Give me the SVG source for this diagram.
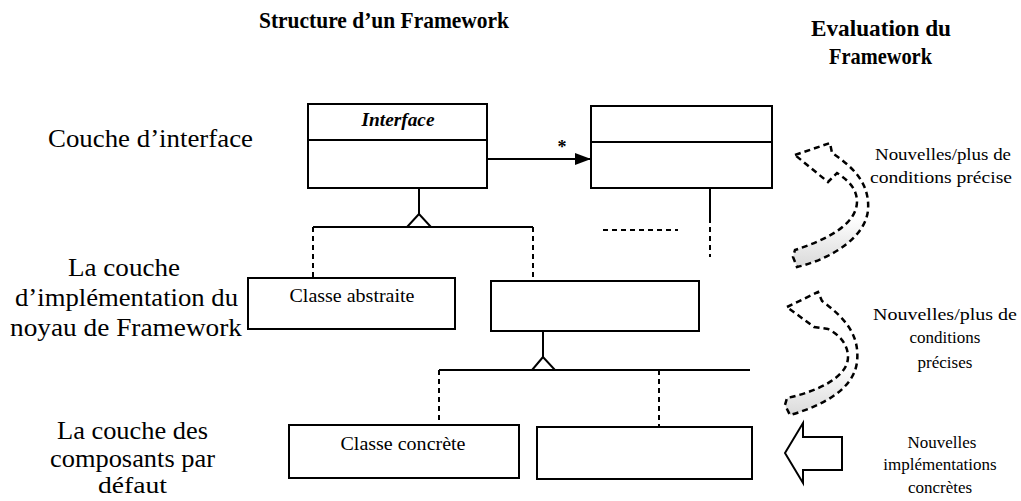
<svg xmlns="http://www.w3.org/2000/svg" width="1021" height="501" viewBox="0 0 1021 501">
<style>
.box{fill:#fff;stroke:#000;stroke-width:2}
.ln{fill:none;stroke:#000;stroke-width:2}
.dash{fill:none;stroke:#000;stroke-width:2;stroke-dasharray:5,4}
.tri{fill:#fff;stroke:#000;stroke-width:2}
.lbl{font-family:"Liberation Serif","Times New Roman",serif;fill:#000}
.ttl{font-family:"Liberation Serif","Times New Roman",serif;font-weight:bold;font-size:24px;fill:#000}
.big{font-size:26px}
.cls{font-size:19px}
.side{font-size:17px}
.curve{stroke:#000;stroke-width:2.5;stroke-dasharray:6,4;fill:url(#shade)}
</style>
<defs>
<marker id="arr" viewBox="0 0 16 12" refX="16" refY="6" markerWidth="16" markerHeight="12" markerUnits="userSpaceOnUse" orient="auto">
<path d="M0,0 L16,6 L0,12 Z" fill="#000"/>
</marker>
<linearGradient id="shade" x1="0" y1="0" x2="0" y2="1">
<stop offset="0" stop-color="#fff"/>
<stop offset="0.6" stop-color="#fff"/>
<stop offset="1" stop-color="#dadada"/>
</linearGradient>
</defs>
<rect width="1021" height="501" fill="#fff"/>

<g id="titles">
<text class="ttl" x="259" y="28" textLength="250" lengthAdjust="spacingAndGlyphs">Structure d’un Framework</text>
<text class="ttl" x="811" y="36" textLength="140" lengthAdjust="spacingAndGlyphs">Evaluation du</text>
<text class="ttl" x="829" y="64" textLength="103" lengthAdjust="spacingAndGlyphs">Framework</text>
</g>

<g id="layer-labels">
<text class="lbl big" x="48" y="147" textLength="205" lengthAdjust="spacingAndGlyphs">Couche d’interface</text>
<text class="lbl big" x="68" y="276" textLength="112" lengthAdjust="spacingAndGlyphs">La couche</text>
<text class="lbl big" x="15" y="306" textLength="223" lengthAdjust="spacingAndGlyphs">d’implémentation du</text>
<text class="lbl big" x="10" y="336" textLength="232" lengthAdjust="spacingAndGlyphs">noyau de Framework</text>
<text class="lbl big" x="57" y="439" textLength="151" lengthAdjust="spacingAndGlyphs">La couche des</text>
<text class="lbl big" x="50" y="467" textLength="165" lengthAdjust="spacingAndGlyphs">composants par</text>
<text class="lbl" x="98" y="493" font-size="24" textLength="69" lengthAdjust="spacingAndGlyphs">défaut</text>
</g>

<g id="connectors">
<line class="ln" x1="487" y1="159" x2="591" y2="159" marker-end="url(#arr)"/>
<line class="ln" x1="419" y1="188" x2="419" y2="214"/>
<polygon class="tri" points="419,214 407,227 431,227"/>
<line class="ln" x1="313" y1="227" x2="533" y2="227"/>
<line class="dash" x1="313" y1="227" x2="313" y2="278"/>
<line class="dash" x1="533" y1="227" x2="533" y2="281"/>
<line class="ln" x1="710" y1="188" x2="710" y2="218"/>
<line class="dash" x1="710" y1="218" x2="710" y2="257"/>
<line class="dash" x1="603" y1="230" x2="678" y2="230"/>
<line class="ln" x1="543" y1="331" x2="543" y2="357"/>
<polygon class="tri" points="543,357 532,370 555,370"/>
<line class="ln" x1="439" y1="370" x2="750" y2="370"/>
<line class="dash" x1="439" y1="370" x2="439" y2="425"/>
<line class="dash" x1="659" y1="370" x2="659" y2="427"/>
</g>

<g id="interface">
<rect class="box" x="308" y="104" width="179" height="84"/>
<line class="ln" x1="308" y1="140" x2="487" y2="140"/>
<text class="lbl" x="398" y="126" text-anchor="middle" font-size="18" font-weight="bold" font-style="italic" textLength="73" lengthAdjust="spacingAndGlyphs">Interface</text>
</g>
<text class="lbl" x="562" y="153" text-anchor="middle" font-size="18" font-weight="bold">*</text>

<g id="class-top-right">
<rect class="box" x="591" y="106" width="181" height="82"/>
<line class="ln" x1="591" y1="142" x2="772" y2="142"/>
</g>

<g id="classe-abstraite">
<rect class="box" x="248" y="278" width="207" height="51"/>
<text class="lbl cls" x="352" y="302" text-anchor="middle" textLength="125" lengthAdjust="spacingAndGlyphs">Classe abstraite</text>
</g>

<g id="class-mid-right">
<rect class="box" x="491" y="281" width="208" height="50"/>
</g>

<g id="classe-concrete">
<rect class="box" x="289" y="425" width="230" height="53"/>
<text class="lbl cls" x="403" y="450" text-anchor="middle" textLength="125" lengthAdjust="spacingAndGlyphs">Classe concrète</text>
</g>

<g id="class-bottom-right">
<rect class="box" x="537" y="427" width="215" height="52"/>
</g>

<g id="eval-arrow-1">
<path class="curve" d="M795,155 L830,143 L832,153 C855,168 870,185 868,210 C866,235 835,258 797,267 L793,257 L795,250 C825,240 858,225 857,200 C856,188 848,180 837,173 L828,182 Z"/>
<text class="lbl side" x="875" y="160" textLength="136" lengthAdjust="spacingAndGlyphs">Nouvelles/plus de</text>
<text class="lbl side" x="870" y="183" textLength="142" lengthAdjust="spacingAndGlyphs">conditions précise</text>
</g>

<g id="eval-arrow-2">
<path class="curve" d="M787,307 L818,292 L822,301 C845,318 860,335 857,362 C854,388 825,405 790,415 L785,405 L787,398 C815,392 848,378 848,357 C848,345 840,335 828,329 L814,327 Z"/>
<text class="lbl side" x="873" y="320" textLength="144" lengthAdjust="spacingAndGlyphs">Nouvelles/plus de</text>
<text class="lbl side" x="945" y="343" text-anchor="middle">conditions</text>
<text class="lbl side" x="945" y="368" text-anchor="middle">précises</text>
</g>

<g id="eval-arrow-3">
<path class="tri" d="M785,453 L803,423 L803,437 L842,437 L842,470 L803,470 L803,483 Z"/>
<text class="lbl side" x="942" y="448" text-anchor="middle">Nouvelles</text>
<text class="lbl side" x="940" y="470" text-anchor="middle">implémentations</text>
<text class="lbl side" x="940" y="493" text-anchor="middle">concrètes</text>
</g>
</svg>
